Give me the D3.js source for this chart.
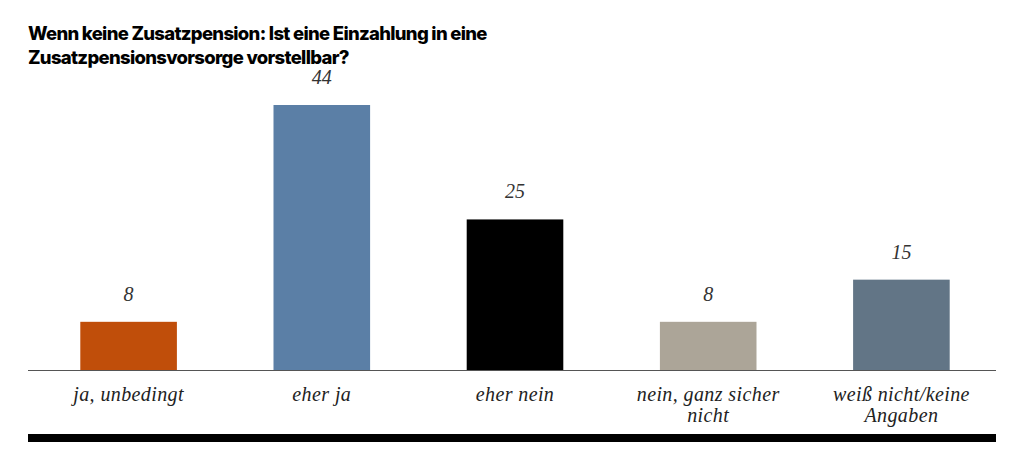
<!DOCTYPE html>
<html><head><meta charset="utf-8">
<script src="https://cdn.jsdelivr.net/npm/d3@7"></script>
<style>body{margin:0;background:#fff}svg{display:block}</style>
</head><body>
<script>
const categories = [["ja, unbedingt"], ["eher ja"], ["eher nein"], ["nein, ganz sicher", "nicht"], ["weiß nicht/keine", "Angaben"]];
const values = [8, 44, 25, 8, 15];
const colors = ["#c04e0a", "#5b7fa6", "#000000", "#aca598", "#627586"];
const titleLines = ["Wenn keine Zusatzpension: Ist eine Einzahlung in eine", "Zusatzpensionsvorsorge vorstellbar?"];

const W = 1024, H = 455;
const svg = d3.select("body").append("svg").attr("width", W).attr("height", H);

const x = d3.scaleBand().domain(d3.range(values.length)).range([32, 998]).paddingInner(0.5).paddingOuter(0.25);
const y = d3.scaleLinear().domain([0, 44]).range([370, 105]);

svg.append("g").selectAll("text").data(titleLines).join("text")
  .attr("x", 28).attr("y", (d, i) => 40 + i * 24)
  .attr("font-family", "Inter, 'Liberation Sans', sans-serif")
  .attr("font-weight", 800).attr("font-size", 18.5).attr("letter-spacing", -0.7)
  .attr("fill", "#000").text(d => d);

svg.append("g").selectAll("rect").data(values).join("rect")
  .attr("x", (d, i) => x(i)).attr("width", x.bandwidth())
  .attr("y", d => y(d)).attr("height", d => y(0) - y(d))
  .attr("fill", (d, i) => colors[i]);

svg.append("g").selectAll("text").data(values).join("text")
  .attr("x", (d, i) => x(i) + x.bandwidth() / 2).attr("y", d => y(d) - 21)
  .attr("text-anchor", "middle").attr("font-family", "'Liberation Serif', serif")
  .attr("font-style", "italic").attr("font-size", 20).attr("fill", "#333")
  .text(d => d);

svg.append("line").attr("x1", 28).attr("x2", 996).attr("y1", y(0) + 0.5).attr("y2", y(0) + 0.5)
  .attr("stroke", "#555").attr("stroke-width", 1.2);

const lab = svg.append("g").selectAll("text").data(categories).join("text")
  .attr("text-anchor", "middle").attr("font-family", "'Liberation Serif', serif")
  .attr("font-style", "italic").attr("font-size", 20).attr("letter-spacing", 0.4).attr("fill", "#222");
lab.each(function(d, i) {
  d3.select(this).selectAll("tspan").data(d).join("tspan")
    .attr("x", x(i) + x.bandwidth() / 2).attr("y", (t, j) => 401 + j * 21).text(t => t);
});

svg.append("rect").attr("x", 28).attr("y", 434).attr("width", 968).attr("height", 8).attr("fill", "#000");
</script>
</body></html>
